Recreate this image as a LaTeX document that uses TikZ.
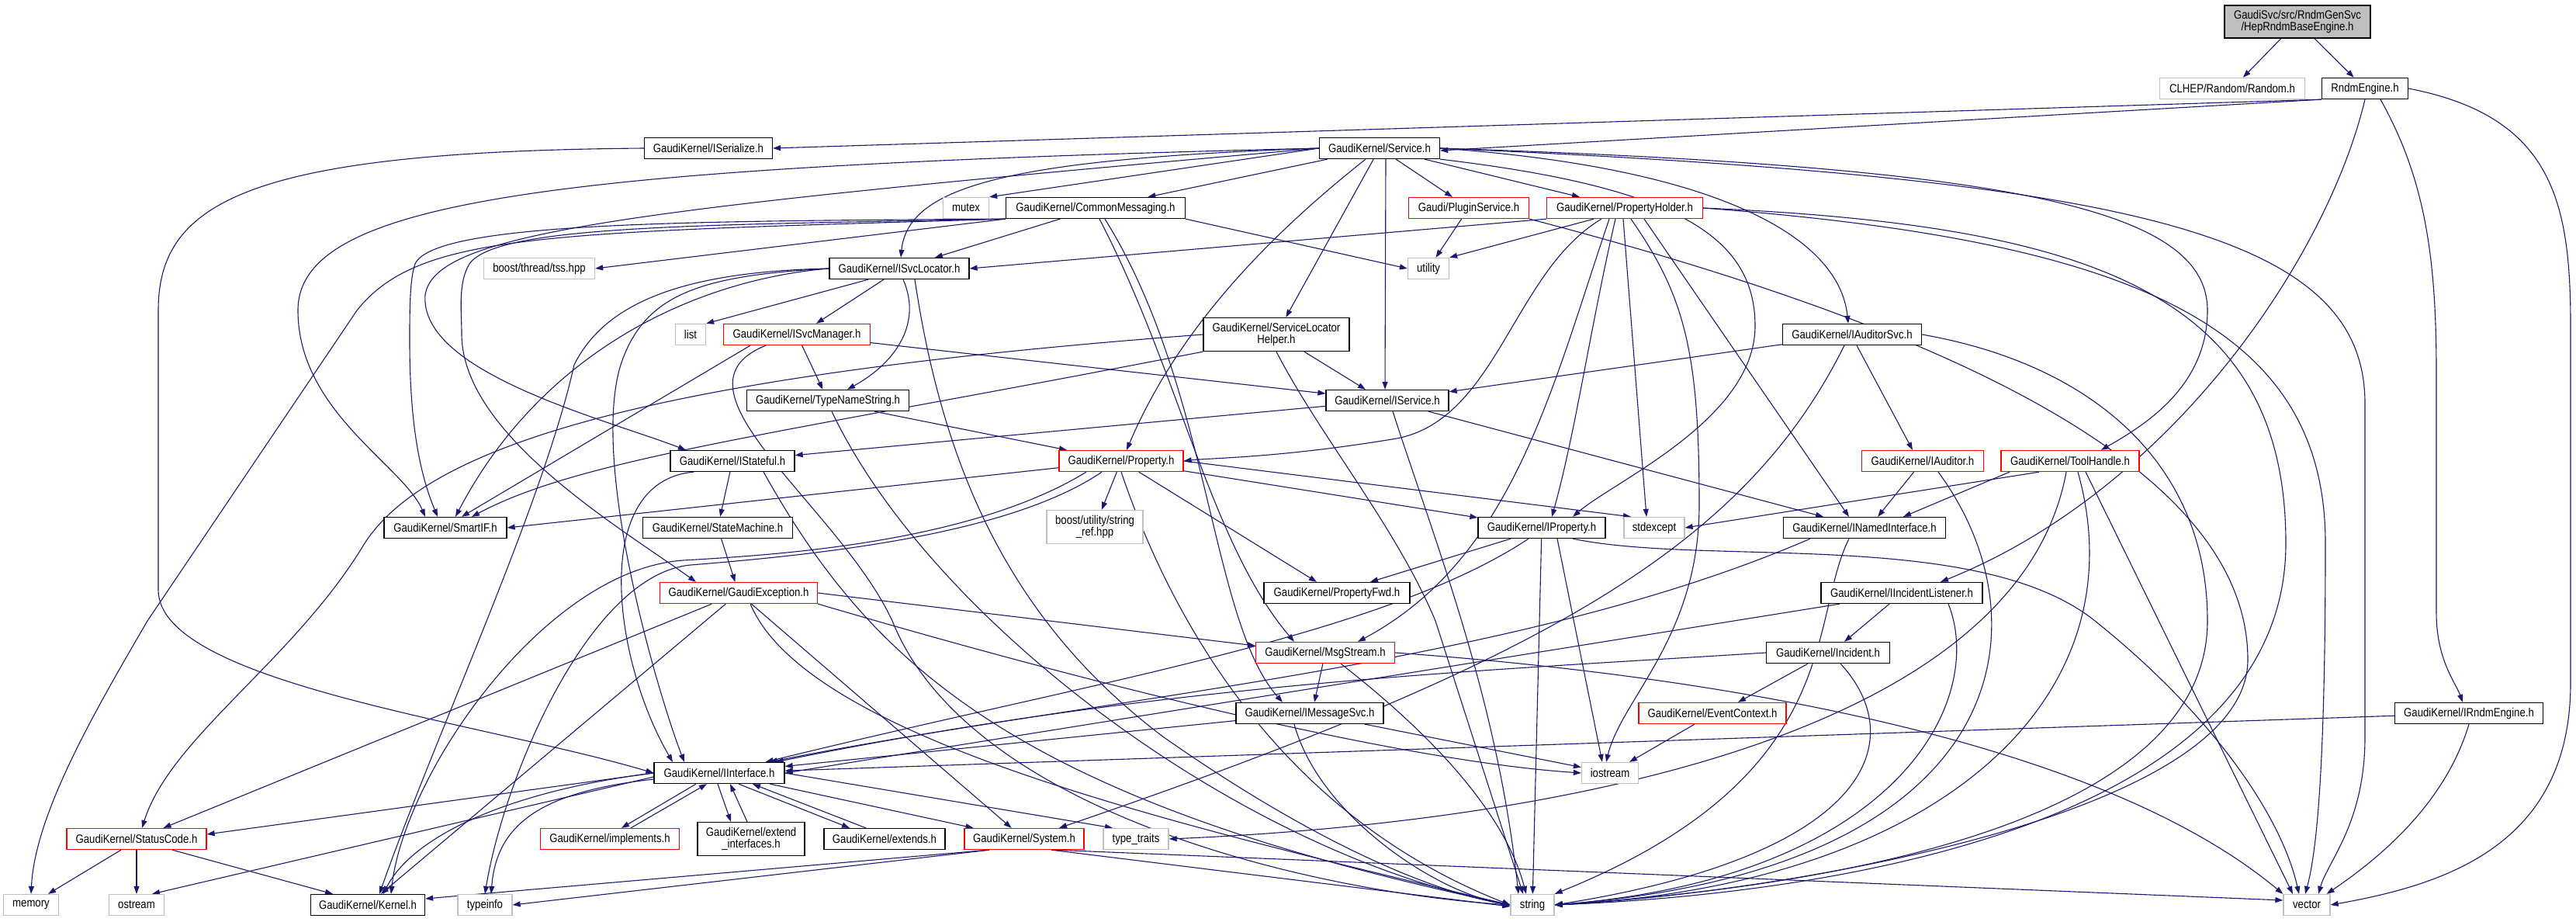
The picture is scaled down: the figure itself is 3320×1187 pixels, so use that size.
\documentclass[tikz,border=0pt]{standalone}
\usepackage{fontspec}
\setmainfont{Liberation Sans}[FakeStretch=0.85]
\usetikzlibrary{arrows.meta,backgrounds}
\definecolor{edgec}{HTML}{191970}
\definecolor{redc}{HTML}{FF0000}
\definecolor{grayc}{HTML}{BFBFBF}
\tikzset{
 box/.style={draw=black, line width=1.3pt, fill=white, minimum height=27pt, inner sep=0pt, font=\fontsize{15.5}{15}\selectfont, align=center},
 redbox/.style={box, draw=redc},
 graybox/.style={box, draw=grayc},
 rootbox/.style={box, fill=grayc},
 dep/.style={draw=edgec, line width=1.1pt, -{Triangle[length=10pt,width=7pt]}},
}
\newcommand\gn[6]{\node[#5, minimum width=#4pt] (#1) at (#2,#3) {#6};}
\begin{document}
\begin{tikzpicture}[x=1pt,y=-1pt]
\useasboundingbox (0,0) rectangle (3320,1187);
% nodes
\gn{hrbe}{2961}{28}{188}{rootbox,minimum height=42pt}{GaudiSvc/src/RndmGenSvc\\/HepRndmBaseEngine.h}
\gn{rand}{2877}{114}{187}{graybox}{CLHEP/Random/Random.h}
\gn{rndm}{3048}{114}{111}{box}{RndmEngine.h}
\gn{iser}{913}{191}{165}{box}{GaudiKernel/ISerialize.h}
\gn{svc}{1778}{191}{155}{box}{GaudiKernel/Service.h}
\gn{mutex}{1245}{268}{59}{graybox}{mutex}
\gn{cm}{1412}{268}{231}{box}{GaudiKernel/CommonMessaging.h}
\gn{plug}{1893}{268}{155}{redbox}{Gaudi/PluginService.h}
\gn{ph}{2094}{268}{201}{redbox}{GaudiKernel/PropertyHolder.h}
\gn{tss}{695}{346}{143}{graybox}{boost/thread/tss.hpp}
\gn{isl}{1159}{346}{180}{box}{GaudiKernel/ISvcLocator.h}
\gn{util}{1841}{346}{53}{graybox}{utility}
\gn{list}{890}{431}{39}{graybox}{list}
\gn{ism}{1027}{431}{189}{redbox}{GaudiKernel/ISvcManager.h}
\gn{slh}{1645}{431}{188}{box,minimum height=43pt}{GaudiKernel/ServiceLocator\\Helper.h}
\gn{ias}{2387}{431}{179}{box}{GaudiKernel/IAuditorSvc.h}
\gn{tns}{1067}{516}{209}{box}{GaudiKernel/TypeNameString.h}
\gn{isv}{1788}{516}{158}{box}{GaudiKernel/IService.h}
\gn{ist}{944}{594}{160}{box}{GaudiKernel/IStateful.h}
\gn{prop}{1445}{594}{160}{redbox}{GaudiKernel/Property.h}
\gn{iaud}{2478}{594}{157}{redbox}{GaudiKernel/IAuditor.h}
\gn{tool}{2668}{594}{178}{redbox}{GaudiKernel/ToolHandle.h}
\gn{smart}{574}{680}{158}{box}{GaudiKernel/SmartIF.h}
\gn{sm}{925}{680}{193}{box}{GaudiKernel/StateMachine.h}
\gn{sref}{1411}{679}{124}{graybox,minimum height=43pt}{boost/utility/string\\\_ref.hpp}
\gn{iprop}{1987}{680}{164}{box}{GaudiKernel/IProperty.h}
\gn{stdx}{2132}{680}{78}{graybox}{stdexcept}
\gn{inam}{2403}{680}{209}{box}{GaudiKernel/INamedInterface.h}
\gn{gexc}{952}{764}{203}{redbox}{GaudiKernel/GaudiException.h}
\gn{pfwd}{1723}{764}{188}{box}{GaudiKernel/PropertyFwd.h}
\gn{iinc}{2451}{764}{208}{box}{GaudiKernel/IIncidentListener.h}
\gn{msgs}{1708}{841}{179}{redbox}{GaudiKernel/MsgStream.h}
\gn{inc}{2356}{841}{159}{box}{GaudiKernel/Incident.h}
\gn{imsg}{1688}{919}{190}{box}{GaudiKernel/IMessageSvc.h}
\gn{evctx}{2207}{919}{190}{redbox}{GaudiKernel/EventContext.h}
\gn{irnd}{3182}{919}{191}{box}{GaudiKernel/IRndmEngine.h}
\gn{iint}{927}{996}{168}{box}{GaudiKernel/IInterface.h}
\gn{iost}{2075}{996}{73}{graybox}{iostream}
\gn{stc}{176}{1081}{180}{redbox}{GaudiKernel/StatusCode.h}
\gn{impl}{786}{1081}{179}{redbox}{GaudiKernel/implements.h}
\gn{extif}{968}{1081}{138}{box,minimum height=43pt}{GaudiKernel/extend\\\_interfaces.h}
\gn{exts}{1140}{1081}{156}{box}{GaudiKernel/extends.h}
\gn{sys}{1320}{1081}{154}{redbox}{GaudiKernel/System.h}
\gn{ttr}{1464}{1081}{84}{graybox}{type\_traits}
\gn{mem}{40}{1166}{71}{graybox}{memory}
\gn{ostr}{176}{1166}{71}{graybox}{ostream}
\gn{kern}{474}{1166}{147}{box}{GaudiKernel/Kernel.h}
\gn{tinfo}{625}{1166}{70}{graybox}{typeinfo}
\gn{str}{1975}{1166}{56}{graybox}{string}
\gn{vec}{2973}{1166}{60}{graybox}{vector}
\begin{pgfonlayer}{background}
\fill[white] (0,0) rectangle (3320,1187);
% root
\draw[dep] (hrbe) -- (rand);
\draw[dep] (hrbe) -- (rndm);
% RndmEngine
\draw[dep] (rndm.south west) -- (iser.east);
\draw[dep] (rndm.south west) -- ([yshift=-3]svc.east);
\draw[dep] (rndm.south) .. controls (3000,330) and (2800,630) .. ([xshift=50]iinc.north);
\draw[dep] ([xshift=20]rndm.south) .. controls (3125,230) and (3140,330) .. (3140,480) -- (3140,790) .. controls (3140,850) and (3165,880) .. ([xshift=-8]irnd.north);
\draw[dep] (rndm.east) .. controls (3290,150) and (3313,260) .. (3313,420) -- (3313,880) .. controls (3313,1090) and (3150,1140) .. (vec.east);
% ISerialize
\draw[dep] (iser.west) .. controls (320,195) and (204,260) .. (204,400) -- (204,760) .. controls (204,880) and (620,930) .. (iint.west);
% Service
\draw[dep] (svc.west) -- (mutex.north east);
\draw[dep] (svc) -- (cm);
\draw[dep] (svc) -- (plug);
\draw[dep] (svc) -- (ph);
\draw[dep] (svc.west) .. controls (1300,205) and (1170,240) .. ([xshift=2]isl.north);
\draw[dep] (svc) -- (slh);
\draw[dep] ([xshift=8]svc.south) -- ([xshift=-3]isv.north);
\draw[dep] ([xshift=-18]svc.south) .. controls (1640,300) and (1520,420) .. ([xshift=7]prop.north);
\draw[dep] (svc.south east) .. controls (2150,240) and (2262,300) .. (2262,420) .. controls (2262,540) and (2080,620) .. ([xshift=40]iprop.north);
\draw[dep] (svc.east) .. controls (2200,215) and (2370,300) .. ([xshift=-5]ias.north);
\draw[dep] (svc.east) .. controls (2600,215) and (2845,270) .. (2845,400) .. controls (2845,500) and (2760,550) .. ([xshift=40]tool.north);
\draw[dep] (svc.east) .. controls (2750,230) and (3048,300) .. (3048,520) -- (3048,950) .. controls (3048,1060) and (3000,1110) .. ([xshift=15]vec.north);
\draw[dep] (svc.west) .. controls (700,215) and (384,260) .. (384,400) .. controls (384,530) and (520,600) .. ([xshift=-26]smart.north);
\draw[dep] (svc.west) .. controls (800,270) and (560,300) .. (548,380) .. controls (540,480) and (780,540) .. ([xshift=-60]ist.north);
% CommonMessaging
\draw[dep] (cm) -- (isl);
\draw[dep] (cm.south east) -- (util.west);
\draw[dep] (cm.south west) -- (tss.east);
\draw[dep] ([xshift=5]cm.south) .. controls (1520,480) and (1560,700) .. ([xshift=-40]msgs.north);
\draw[dep] ([xshift=12]cm.south) .. controls (1560,500) and (1560,800) .. ([xshift=-35]imsg.north);
\draw[dep] (cm.south west) .. controls (900,290) and (640,290) .. (605,340) .. controls (590,365) and (595,400) .. (595,430) .. controls (595,560) and (800,680) .. ([xshift=-55]gexc.north);
\draw[dep] (cm.south west) .. controls (900,285) and (560,285) .. (535,340) .. controls (528,360) and (528,400) .. (528,440) .. controls (528,560) and (545,620) .. ([xshift=-10]smart.north);
\draw[dep] (cm.south west) .. controls (700,300) and (540,300) .. (460,400) -- (190,800) .. controls (120,920) and (45,1050) .. (mem.north);
% PluginService
\draw[dep] (plug) -- (util);
\draw[dep] (plug.south east) .. controls (2500,420) and (2897,600) .. (2897,850) .. controls (2897,1050) and (2300,1150) .. (str.east);
% PropertyHolder
\draw[dep] (ph.south west) -- (isl.east);
\draw[dep] ([xshift=-40]ph.south) -- (util.north east);
\draw[dep] ([xshift=-30]ph.south) .. controls (1950,350) and (1930,540) .. (1800,565) .. controls (1650,590) and (1560,590) .. (prop.east);
\draw[dep] ([xshift=-12]ph.south) .. controls (2050,420) and (2030,560) .. ([xshift=13]iprop.north);
\draw[dep] ([xshift=-2]ph.south) -- ([xshift=-10]stdx.north);
\draw[dep] ([xshift=-20]ph.south) .. controls (2000,500) and (1950,720) .. ([xshift=42]msgs.north);
\draw[dep] ([xshift=8]ph.south) .. controls (2170,380) and (2190,450) .. (2190,650) .. controls (2190,820) and (2090,900) .. ([xshift=-5]iost.north);
\draw[dep] ([xshift=25]ph.south) -- ([xshift=-20]inam.north);
\draw[dep] (ph.east) .. controls (2700,290) and (2946,380) .. (2946,700) .. controls (2946,1050) and (2400,1150) .. (str.east);
\draw[dep] (ph.east) .. controls (2750,310) and (2997,420) .. (2997,700) .. controls (2997,1000) and (2985,1100) .. ([xshift=-2]vec.north);
% Property
\draw[dep] (prop) -- (iprop);
\draw[dep] (prop.east) -- ([xshift=-30]stdx.north);
\draw[dep] (prop) -- (sref);
\draw[dep] (prop) -- ([xshift=-26]pfwd.north);
\draw[dep] (prop) -- (smart.east);
\draw[dep] (prop.south) .. controls (1510,800) and (1650,1050) .. (str.west);
\draw[dep] ([xshift=-25]prop.south) .. controls (1300,690) and (1050,715) .. (890,728) .. controls (760,740) and (650,1000) .. (tinfo.north);
\draw[dep] ([xshift=-45]prop.south) .. controls (1250,700) and (1000,715) .. (880,722) .. controls (700,735) and (520,1000) .. ([xshift=30]kern.north);
% ISvcLocator
\draw[dep] ([xshift=-40]isl.south) -- (list.north east);
\draw[dep] ([xshift=-20]isl.south) -- ([xshift=25]ism.north);
\draw[dep] ([xshift=5]isl.south) .. controls (1190,420) and (1150,470) .. ([xshift=25]tns.north);
\draw[dep] (isl.west) .. controls (900,360) and (700,450) .. ([xshift=13]smart.north);
\draw[dep] (isl.west) .. controls (900,355) and (830,380) .. (800,470) .. controls (760,600) and (850,900) .. ([xshift=-45]iint.north);
\draw[dep] (isl.west) .. controls (880,350) and (780,390) .. (740,470) .. controls (700,650) and (560,950) .. ([xshift=15]kern.north);
\draw[dep] ([xshift=20]isl.south) .. controls (1215,600) and (1300,800) .. (1500,950) .. controls (1700,1090) and (1850,1150) .. (str.west);
% ISvcManager
\draw[dep] (ism) -- (tns);
\draw[dep] (ism) -- (isv);
\draw[dep] ([xshift=-60]ism.south) -- ([xshift=21]smart.north);
\draw[dep] ([xshift=-40]ism.south) .. controls (850,500) and (1080,650) .. (1150,800) .. controls (1250,1050) and (1700,1150) .. (str.west);
% TypeNameString
\draw[dep] ([xshift=60]tns.south) -- ([xshift=-70]prop.north);
\draw[dep] ([xshift=5]tns.south) .. controls (1200,800) and (1600,1100) .. (str.west);
% ServiceLocatorHelper
\draw[dep] (slh) -- ([xshift=-28]isv.north);
\draw[dep] (slh.south west) .. controls (1000,560) and (750,590) .. ([xshift=34]smart.north);
\draw[dep] (slh.west) .. controls (900,480) and (560,560) .. (470,700) .. controls (380,850) and (220,950) .. ([xshift=7]stc.north);
\draw[dep] (slh.south) .. controls (1700,560) and (1800,680) .. (1850,800) -- ([xshift=-12]str.north);
% IService
\draw[dep] (isv) -- (ist);
\draw[dep] ([xshift=7]isv.south) .. controls (1850,700) and (1930,900) .. ([xshift=-18]str.north);
\draw[dep] (isv) -- (inam);
% IStateful
\draw[dep] ([xshift=-50]ist.south) .. controls (760,620) and (790,850) .. ([xshift=-60]iint.north);
\draw[dep] (ist) -- (sm);
\draw[dep] ([xshift=40]ist.south) .. controls (1120,850) and (1300,1030) .. (str.west);
% StateMachine
\draw[dep] (sm) -- (gexc);
% GaudiException
\draw[dep] (gexc.east) -- ([yshift=9]msgs.west);
\draw[dep] (gexc) -- (stc);
\draw[dep] (gexc) -- (kern);
\draw[dep] (gexc) -- (sys);
\draw[dep] ([xshift=15]gexc.south) .. controls (1040,950) and (1500,1060) .. (str.west);
\draw[dep] (gexc.south east) .. controls (1400,880) and (1800,980) .. (iost.west);
% MsgStream
\draw[dep] (msgs) -- ([xshift=6]imsg.north);
\draw[dep] ([xshift=20]msgs.south) .. controls (1850,950) and (1940,1050) .. ([xshift=-8]str.north);
\draw[dep] (msgs.east) .. controls (2200,870) and (2700,950) .. (vec.north west);
% IMessageSvc
\draw[dep] (imsg) -- (iint);
\draw[dep] (imsg) -- (iost);
\draw[dep] ([xshift=-20]imsg.south) .. controls (1700,1050) and (1850,1150) .. (str.west);
% IAuditorSvc
\draw[dep] (ias) -- (isv);
\draw[dep] ([xshift=6]ias.south) -- ([xshift=-13]iaud.north);
\draw[dep] ([xshift=-10]ias.south) .. controls (2250,700) and (2000,850) .. ([xshift=45]sys.north);
\draw[dep] (ias.east) .. controls (2700,470) and (2845,600) .. (2845,800) .. controls (2845,1050) and (2400,1140) .. (str.east);
% IAuditor
\draw[dep] (iaud) -- ([xshift=17]inam.north);
\draw[dep] ([xshift=20]iaud.south) .. controls (2640,800) and (2600,1120) .. (str.east);
% ToolHandle
\draw[dep] ([xshift=-78]tool.south) -- ([xshift=50]inam.north);
\draw[dep] ([xshift=-40]tool.south) -- (stdx.east);
\draw[dep] ([xshift=-5]tool.south) .. controls (2600,950) and (2000,1060) .. (ttr.east);
\draw[dep] ([xshift=10]tool.south) .. controls (2760,900) and (2500,1140) .. (str.east);
\draw[dep] ([xshift=20]tool.south) -- ([xshift=-18]vec.north);
% INamedInterface
\draw[dep] ([xshift=-70]inam.south) .. controls (1950,860) and (1400,900) .. ([xshift=-20]iint.north east);
\draw[dep] ([xshift=-20]inam.south) .. controls (2330,800) and (2380,1000) .. (str.north east);
% IProperty
\draw[dep] ([xshift=-40]iprop.south) -- ([xshift=43]pfwd.north);
\draw[dep] ([xshift=-17]iprop.south) .. controls (1780,820) and (1400,880) .. ([xshift=-25]iint.north east);
\draw[dep] ([xshift=20]iprop.south) -- ([xshift=-10]iost.north);
\draw[dep] (iprop) -- (str);
\draw[dep] ([xshift=40]iprop.south) .. controls (2200,730) and (2550,680) .. (2700,800) .. controls (2850,920) and (2940,1050) .. ([xshift=-10]vec.north);
% IIncidentListener
\draw[dep] ([xshift=-80]iinc.south) -- (iint.east);
\draw[dep] ([xshift=-16]iinc.south) -- ([xshift=21]inc.north);
\draw[dep] ([xshift=60]iinc.south) .. controls (2560,900) and (2450,1130) .. (str.east);
% Incident
\draw[dep] ([xshift=-26]inc.south) -- ([xshift=33]evctx.north);
\draw[dep] ([xshift=16]inc.south) .. controls (2460,950) and (2420,1100) .. (str.east);
\draw[dep] (inc.west) .. controls (1900,865) and (1500,880) .. ([xshift=-12]iint.north east);
% EventContext
\draw[dep] ([xshift=-23]evctx.south) -- ([xshift=25]iost.north);
% IRndmEngine
\draw[dep] (irnd) -- (iint);
\draw[dep] (irnd.south) .. controls (3150,1040) and (3060,1110) .. ([xshift=-5]vec.north east);
% IInterface
\draw[dep] (iint.west) -- ([yshift=6]stc.east);
\draw[dep] ([yshift=-5]iint.west) -- ([xshift=20]ostr.north);
\draw[dep] (iint.west) .. controls (650,1020) and (530,1080) .. ([xshift=20]kern.north);
\draw[dep] ([yshift=-8]iint.west) .. controls (700,1020) and (640,1060) .. ([xshift=8]tinfo.north);
\draw[dep] (iint) -- (sys);
\draw[dep] (iint.east) -- ([xshift=-30]ttr.north);
\draw[dep] ([xshift=-30]iint.south) -- ([xshift=15]impl.north);
\draw[dep] ([xshift=27]impl.north) -- ([xshift=-16]iint.south);
\draw[dep] ([xshift=-2]iint.south) -- ([xshift=-26]extif.north);
\draw[dep] ([xshift=-5]extif.north) -- ([xshift=14]iint.south);
\draw[dep] ([xshift=25]iint.south) -- ([xshift=-45]exts.north);
\draw[dep] ([xshift=-24]exts.north) -- ([xshift=43]iint.south);
% StatusCode
\draw[dep] ([xshift=-20]stc.south) -- ([xshift=22]mem.north);
\draw[dep] (stc) -- (ostr);
\draw[dep] ([xshift=46]stc.south) -- ([xshift=-45]kern.north);
% System
\draw[dep] ([xshift=-45]sys.south) -- ([yshift=8]kern.east);
\draw[dep] ([xshift=-45]sys.south) -- (tinfo.east);
\draw[dep] ([xshift=35]sys.south) -- ([yshift=-2]str.west);
\draw[dep] ([xshift=40]sys.south) -- ([yshift=6]vec.west);
\end{pgfonlayer}
\end{tikzpicture}
\end{document}
